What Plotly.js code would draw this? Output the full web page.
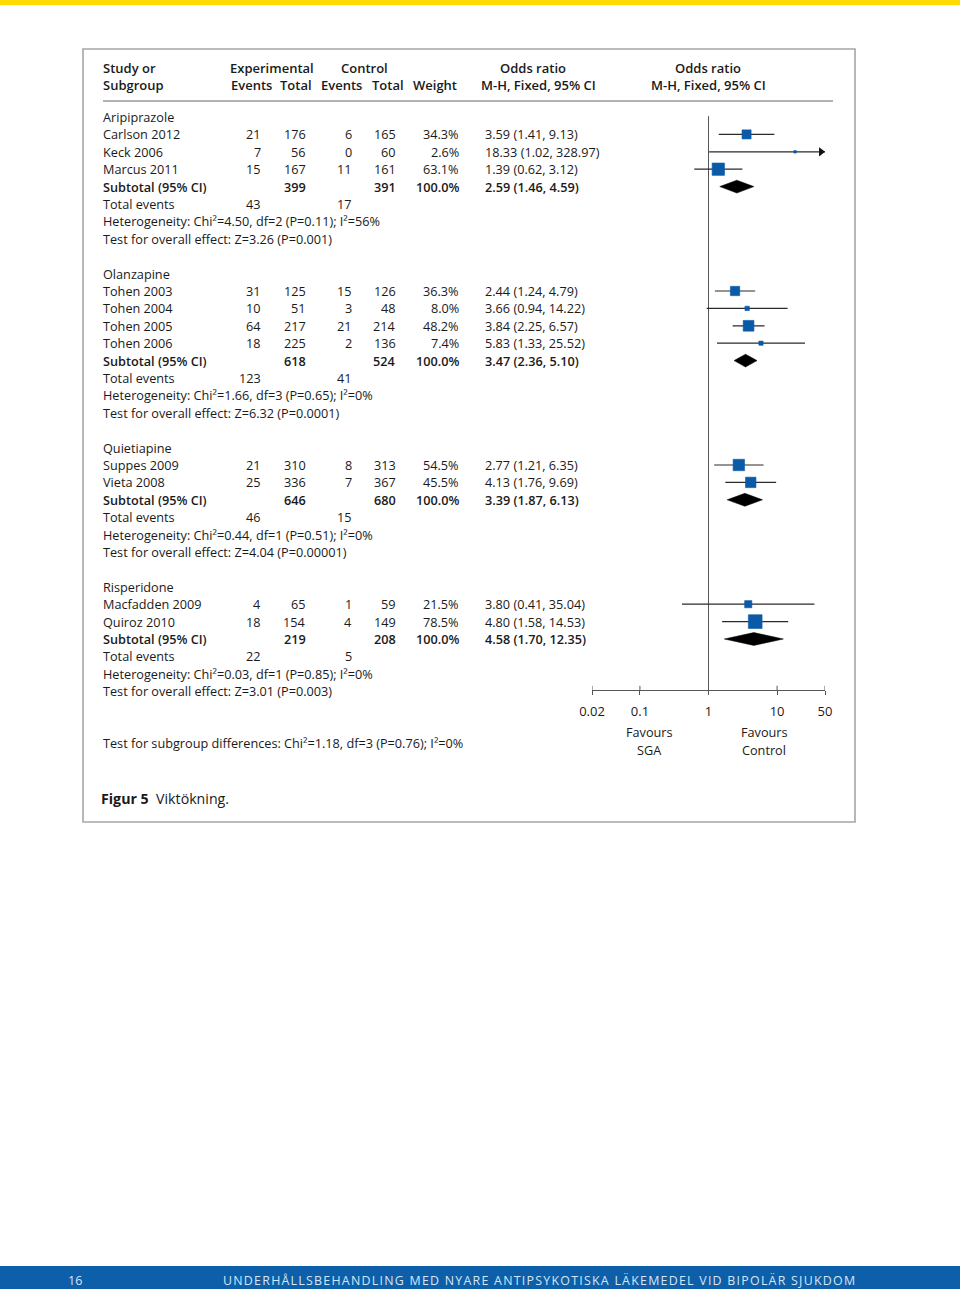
<!DOCTYPE html>
<html><head><meta charset="utf-8">
<script src="https://cdn.plot.ly/plotly-3.0.1.min.js"></script>
<style>html,body{margin:0;padding:0;background:#fff}#chart{width:960px;height:1289px}
.footer-spaced text{letter-spacing:1.25px}</style>
</head><body><div id="chart"></div>
<script>
// ---------- DATA ----------
const groupNames = ['Aripiprazole', 'Olanzapine', 'Quietiapine', 'Risperidone'];
const studyNames = ['Carlson 2012', 'Keck 2006', 'Marcus 2011',
  'Tohen 2003', 'Tohen 2004', 'Tohen 2005', 'Tohen 2006',
  'Suppes 2009', 'Vieta 2008', 'Macfadden 2009', 'Quiroz 2010'];
const studyGroup = [0, 0, 0, 1, 1, 1, 1, 2, 2, 3, 3];
const expEvents = [21, 7, 15, 31, 10, 64, 18, 21, 25, 4, 18];
const expTotal = [176, 56, 167, 125, 51, 217, 225, 310, 336, 65, 154];
const ctlEvents = [6, 0, 11, 15, 3, 21, 2, 8, 7, 1, 4];
const ctlTotal = [165, 60, 161, 126, 48, 214, 136, 313, 367, 59, 149];
const weights = [34.3, 2.6, 63.1, 36.3, 8.0, 48.2, 7.4, 54.5, 45.5, 21.5, 78.5];
const oddsRatio = [3.59, 18.33, 1.39, 2.44, 3.66, 3.84, 5.83, 2.77, 4.13, 3.80, 4.80];
const ciLow = [1.41, 1.02, 0.62, 1.24, 0.94, 2.25, 1.33, 1.21, 1.76, 0.41, 1.58];
const ciHigh = [9.13, 328.97, 3.12, 4.79, 14.22, 6.57, 25.52, 6.35, 9.69, 35.04, 14.53];

const subExpTotal = [399, 618, 646, 219];
const subCtlTotal = [391, 524, 680, 208];
const subWeight = [100.0, 100.0, 100.0, 100.0];
const subOR = [2.59, 3.47, 3.39, 4.58];
const subLow = [1.46, 2.36, 1.87, 1.70];
const subHigh = [4.59, 5.10, 6.13, 12.35];
const totExpEvents = [43, 123, 46, 22];
const totCtlEvents = [17, 41, 15, 5];
const heterogeneity = ['Chi²=4.50, df=2 (P=0.11); I²=56%', 'Chi²=1.66, df=3 (P=0.65); I²=0%',
  'Chi²=0.44, df=1 (P=0.51); I²=0%', 'Chi²=0.03, df=1 (P=0.85); I²=0%'];
const overallEffect = ['Z=3.26 (P=0.001)', 'Z=6.32 (P=0.0001)', 'Z=4.04 (P=0.00001)', 'Z=3.01 (P=0.003)'];
const subgroupDiff = 'Chi²=1.18, df=3 (P=0.76); I²=0%';
const axisTicks = [0.02, 0.1, 1, 10, 50];
const axisTickLabels = ['0.02', '0.1', '1', '10', '50'];
const axisMin = 0.02, axisMax = 50;

// ---------- LAYOUT HELPERS ----------
const W = 960, H = 1289, ROW0 = 117, ROWH = 17.4;
const px = x => x / W;
const py = y => 1 - y / H;
const FONT = '"Open Sans", "Liberation Sans", sans-serif';
const FS = 12.7;
const TXT = '#1a1a1a';
const ann = [];
function txt(x, row, text, anchor, o) {
  o = o || {};
  const dx = anchor === 'left' ? -2 : (anchor === 'right' ? 2 : 0);
  ann.push({xref: 'paper', yref: o.yref || 'y', x: px(x + dx), y: row, text: text,
    xanchor: anchor, yanchor: 'middle', showarrow: false, align: o.align || 'left',
    font: {family: FONT, size: o.size || FS, color: o.color || TXT, weight: o.weight || 'normal'}});
  return ann.length - 1;
}
const COL = {name: 103, expEv: 261, expTot: 306, ctlEv: 352, ctlTot: 396, weight: 459, or: 485};
const f2 = v => v.toFixed(2);
const ciText = (o, l, h) => f2(o) + ' (' + f2(l) + ', ' + f2(h) + ')';
const HB = {weight: 600, size: 13};

// header
const hr1 = (68 - ROW0) / ROWH, hr2 = (85 - ROW0) / ROWH;
txt(103, hr1, 'Study or', 'left', HB);
txt(103, hr2, 'Subgroup', 'left', HB);
txt(272, hr1, 'Experimental', 'center', HB);
txt(364, hr1, 'Control', 'center', HB);
txt(251, hr2, 'Events', 'center', HB);
txt(296, hr2, 'Total', 'center', HB);
txt(341, hr2, 'Events', 'center', HB);
txt(388, hr2, 'Total', 'center', HB);
txt(435, hr2, 'Weight', 'center', HB);
txt(533, hr1, 'Odds ratio', 'center', HB);
txt(538, hr2, 'M-H, Fixed, 95% CI', 'center', HB);
txt(708, hr1, 'Odds ratio', 'center', HB);
txt(708, hr2, 'M-H, Fixed, 95% CI', 'center', HB);

// body rows
let row = 0;
const studyRows = [], subRows = [];
let lastTestRow = 0;
const SB = {weight: 600};
groupNames.forEach((gName, g) => {
  txt(COL.name, row, gName, 'left'); row++;
  studyNames.forEach((s, i) => {
    if (studyGroup[i] !== g) return;
    studyRows[i] = row;
    txt(COL.name, row, s, 'left');
    txt(COL.expEv, row, String(expEvents[i]), 'right');
    txt(COL.expTot, row, String(expTotal[i]), 'right');
    txt(COL.ctlEv, row, String(ctlEvents[i]), 'right');
    txt(COL.ctlTot, row, String(ctlTotal[i]), 'right');
    txt(COL.weight, row, weights[i].toFixed(1) + '%', 'right');
    txt(COL.or, row, ciText(oddsRatio[i], ciLow[i], ciHigh[i]), 'left');
    row++;
  });
  subRows[g] = row;
  txt(COL.name, row, 'Subtotal (95% CI)', 'left', SB);
  txt(COL.expTot, row, String(subExpTotal[g]), 'right', SB);
  txt(COL.ctlTot, row, String(subCtlTotal[g]), 'right', SB);
  txt(COL.weight, row, subWeight[g].toFixed(1) + '%', 'right', SB);
  txt(COL.or, row, ciText(subOR[g], subLow[g], subHigh[g]), 'left', SB);
  row++;
  txt(COL.name, row, 'Total events', 'left');
  txt(COL.expEv, row, String(totExpEvents[g]), 'right');
  txt(COL.ctlEv, row, String(totCtlEvents[g]), 'right');
  row++;
  txt(COL.name, row, 'Heterogeneity: ' + heterogeneity[g], 'left'); row++;
  txt(COL.name, row, 'Test for overall effect: ' + overallEffect[g], 'left');
  lastTestRow = row; row++;
  row++;
});
const axisRow = lastTestRow - 0.07;
txt(COL.name, lastTestRow + 3, 'Test for subgroup differences: ' + subgroupDiff, 'left');
txt(649, axisRow + 2.42, 'Favours', 'center');
txt(649, axisRow + 3.45, 'SGA', 'center');
txt(764, axisRow + 2.42, 'Favours', 'center');
txt(764, axisRow + 3.45, 'Control', 'center');
txt(101, py(798), '<b>Figur 5</b>  Viktökning.', 'left', {yref: 'paper', size: 14.2});
txt(68, py(1280), '16', 'left', {yref: 'paper', size: 12.5, color: '#d6e6f5'});
const footIdx = txt(223, py(1280), 'UNDERHÅLLSBEHANDLING MED NYARE ANTIPSYKOTISKA LÄKEMEDEL VID BIPOLÄR SJUKDOM', 'left',
  {yref: 'paper', size: 12.4, color: '#d6e6f5'});

// ---------- TRACES ----------
const traces = [];
traces.push({x: [1, 1], y: [-0.05, axisRow], mode: 'lines', line: {color: '#555', width: 1}, hoverinfo: 'skip'});
const tx = [], ty = [];
axisTicks.forEach(t => { tx.push(t, t, null); ty.push(axisRow - 0.24, axisRow, null); });
traces.push({x: tx, y: ty, mode: 'lines', line: {color: '#555', width: 1}, hoverinfo: 'skip'});
const lx = [], ly = [], arrX = [], arrY = [];
studyNames.forEach((s, i) => {
  const hi = Math.min(ciHigh[i], axisMax);
  lx.push(ciLow[i], hi, null); ly.push(studyRows[i], studyRows[i], null);
  if (ciHigh[i] > axisMax) { arrX.push(axisMax / Math.pow(10, 4 / 70)); arrY.push(studyRows[i]); }
});
traces.push({x: lx, y: ly, mode: 'lines', line: {color: '#2a2a2a', width: 1.2}, hoverinfo: 'skip'});
traces.push({x: arrX, y: arrY, mode: 'markers', cliponaxis: false,
  marker: {symbol: 'triangle-right', size: 8, color: '#111'}, hoverinfo: 'skip'});
traces.push({x: oddsRatio, y: studyRows, mode: 'markers', cliponaxis: false,
  marker: {symbol: 'square', size: weights.map(w => 1.55 * Math.sqrt(w)), color: '#0a5aa8', opacity: 1,
    line: {width: 0.6, color: '#0a5aa8'}},
  hoverinfo: 'skip'});
const dx = [], dy = [];
groupNames.forEach((g, k) => {
  const r = subRows[k];
  dx.push(subLow[k], subOR[k], subHigh[k], subOR[k], subLow[k], null);
  dy.push(r, r - 0.37, r, r + 0.37, r, null);
});
traces.push({x: dx, y: dy, mode: 'lines', fill: 'toself', fillcolor: '#000',
  line: {color: '#000', width: 0.5}, hoverinfo: 'skip'});

// ---------- LAYOUT ----------
const layout = {
  width: W, height: H, margin: {l: 0, r: 0, t: 0, b: 0},
  paper_bgcolor: '#fff', plot_bgcolor: 'rgba(0,0,0,0)', showlegend: false,
  xaxis: {type: 'log', range: [Math.log10(axisMin), Math.log10(axisMax)],
    domain: [px(592), px(825)], anchor: 'free', position: py(ROW0 + ROWH * axisRow),
    showline: true, linecolor: '#555', linewidth: 1, ticks: 'outside', ticklen: 4, tickcolor: '#555',
    ticklabelstandoff: 5,
    tickvals: axisTicks, ticktext: axisTickLabels, showgrid: false, zeroline: false,
    tickfont: {family: FONT, size: 13, color: TXT}, fixedrange: true},
  yaxis: {range: [(H - ROW0) / ROWH, -ROW0 / ROWH], domain: [0, 1], visible: false, fixedrange: true},
  annotations: ann,
  shapes: [
    {type: 'rect', xref: 'paper', yref: 'paper', x0: 0, x1: 1, y0: py(5), y1: 1, fillcolor: '#ffd900', line: {width: 0}},
    {type: 'rect', xref: 'paper', yref: 'paper', x0: 0, x1: 1, y0: 0, y1: py(1266), fillcolor: '#0d5fa9', line: {width: 0}},
    {type: 'rect', xref: 'paper', yref: 'paper', x0: px(83), x1: px(855), y0: py(822), y1: py(49), line: {color: '#a6a6a6', width: 1.6}},
    {type: 'line', xref: 'paper', yref: 'paper', x0: px(103), x1: px(833), y0: py(101), y1: py(101), line: {color: '#9a9a9a', width: 1.5}}
  ]
};
Plotly.newPlot('chart', traces, layout, {staticPlot: true, displayModeBar: false}).then(gd => {
  const g = gd.querySelector('g.annotation[data-index="' + footIdx + '"]');
  if (g) g.classList.add('footer-spaced');
});
</script></body></html>
